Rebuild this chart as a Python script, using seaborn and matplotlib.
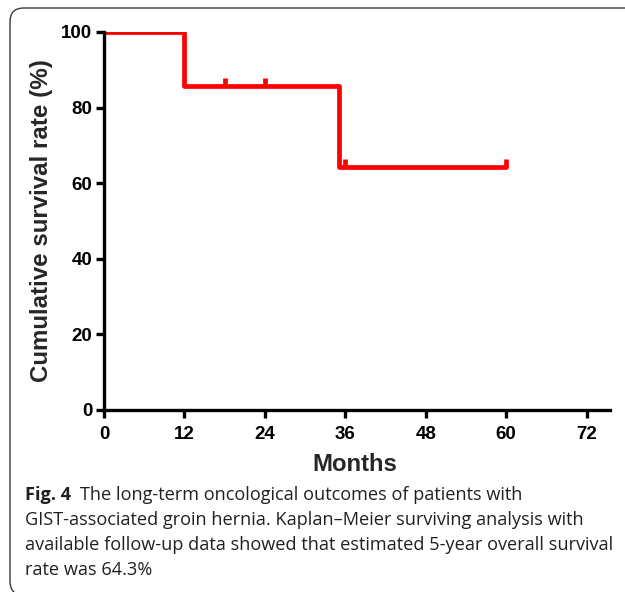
import matplotlib
matplotlib.use("Agg")
import matplotlib.pyplot as plt
from matplotlib.patches import FancyBboxPatch
import seaborn as sns
import pandas as pd

# Kaplan-Meier step curve (months, survival %)
months = [0, 12, 35, 60]
survival = [100.0, 85.7, 64.3, 64.3]
censor_months = [18, 24, 36, 60]
censor_survival = [85.7, 85.7, 64.3, 64.3]
x_ticks = [0, 12, 24, 36, 48, 60, 72]
y_ticks = [0, 20, 40, 60, 80, 100]
caption_first = "The long-term oncological outcomes of patients with"
caption_lines = [
    "GIST-associated groin hernia. Kaplan\u2013Meier surviving analysis with",
    "available follow-up data showed that estimated 5-year overall survival",
    "rate was 64.3%",
]

sns.set_style("white")
plt.rcParams['font.family'] = ['Liberation Sans', 'DejaVu Sans']

W, H = 625, 592
fig = plt.figure(figsize=(W / 100, H / 100), dpi=100)

# rounded caption frame (runs off the right and bottom edges)
frame = FancyBboxPatch((10 / W, -3 / H), 640 / W, (H - 5) / H,
                       boxstyle="round,pad=0,rounding_size=0.022",
                       transform=fig.transFigure, fill=False,
                       edgecolor='#3a3a3a', linewidth=1.0,
                       mutation_aspect=W / H)
fig.patches.append(frame)

ax = fig.add_axes([104 / W, 1 - 410 / H, (610 - 104) / W, (410 - 32) / H])

curve = pd.DataFrame({'Months': months, 'Survival': survival})
sns.lineplot(data=curve, x='Months', y='Survival', drawstyle='steps-post',
             color='#ff0000', linewidth=3.4, ax=ax)
cens = pd.DataFrame({'Months': censor_months, 'Survival': censor_survival})
# censor ticks point upward from the curve
sns.scatterplot(data=cens, x='Months', y='Survival', marker=[(0, 0), (0, 1)],
                s=140, color='#ff0000', edgecolor='#ff0000', linewidth=3.4,
                ax=ax, zorder=3)

ax.set_xlim(0, 75.5)
ax.set_ylim(0, 100)
ax.set_xticks(x_ticks)
ax.set_yticks(y_ticks)
sns.despine(ax=ax)
for s in ['left', 'bottom']:
    ax.spines[s].set_linewidth(2.4)
    ax.spines[s].set_color('black')
ax.tick_params(axis='both', direction='out', length=5.5, width=2.4,
               labelsize=13.5, bottom=True, left=True, colors='black')
ax.tick_params(axis='x', pad=6)
ax.tick_params(axis='y', pad=3)
for lab in ax.get_xticklabels() + ax.get_yticklabels():
    lab.set_fontweight('bold')
ax.set_xlabel('Months', fontsize=17.2, fontweight='bold', va='top')
ax.set_ylabel('Cumulative survival rate (%)', fontsize=17.4,
              fontweight='bold')
ax.xaxis.set_label_coords(0.496, -0.113)
ax.yaxis.set_label_coords(-0.101, 0.5)

# caption
cap_font = ['Open Sans', 'DejaVu Sans']
cap_col = '#231f20'
fs = 13.1
t = fig.text(25 / W, 1 - 500 / H, "Fig. 4", fontsize=fs, fontweight='bold',
             family=cap_font, va='baseline', color=cap_col)
fig.canvas.draw()
bb = t.get_window_extent()
fig.text((bb.x1 + 9) / W, 1 - 500 / H, caption_first, fontsize=fs,
         family=cap_font, va='baseline', color=cap_col)
for i, line in enumerate(caption_lines):
    fig.text(25 / W, 1 - (525 + 25 * i) / H, line, fontsize=fs,
             family=cap_font, va='baseline', color=cap_col)

fig.savefig('out.png', dpi=100)
